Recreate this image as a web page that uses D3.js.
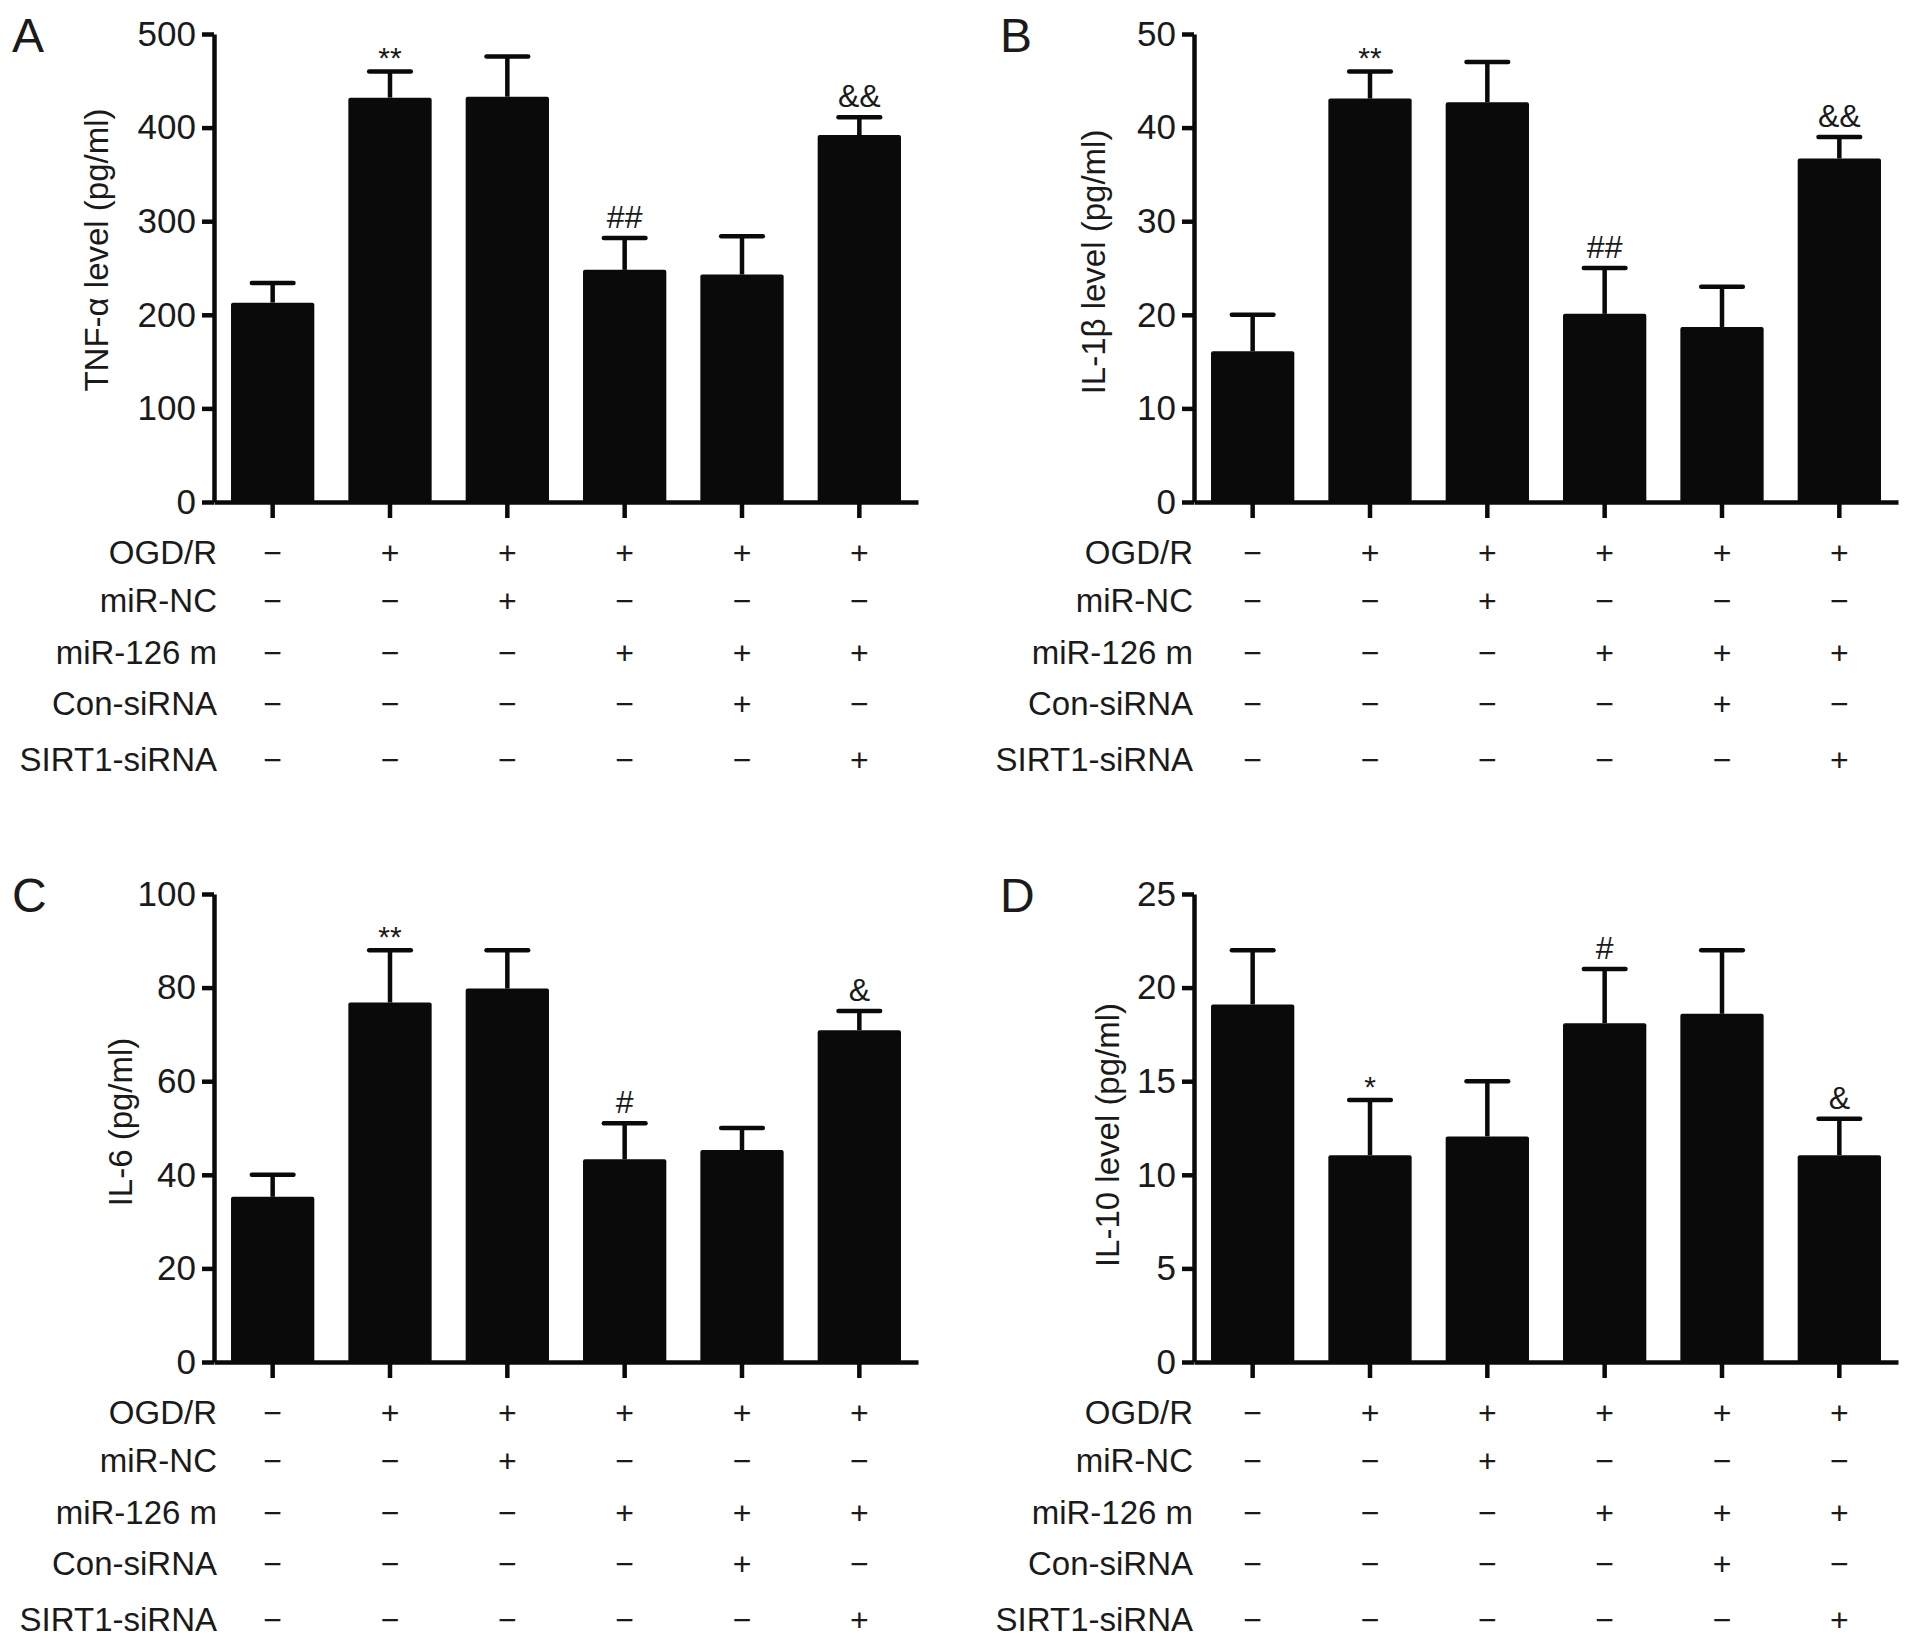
<!DOCTYPE html>
<html>
<head>
<meta charset="utf-8">
<script src="https://cdn.jsdelivr.net/npm/d3@7"></script>
<style>
body { margin: 0; background: #fff; }
text { font-family: "Liberation Sans", Arial, Helvetica, sans-serif; fill: #1a1a1a; }
</style>
</head>
<body>
<svg id="fig" width="1913" height="1646"></svg>
<script>
// six groups, treatment rows under the x axis (1 = "+", 0 = "-")
var groups = ["g1", "g2", "g3", "g4", "g5", "g6"]
var rowLabels = ["OGD/R", "miR-NC", "miR-126 m", "Con-siRNA", "SIRT1-siRNA"]
var treatments = [
    [0, 1, 1, 1, 1, 1],
    [0, 0, 1, 0, 0, 0],
    [0, 0, 0, 1, 1, 1],
    [0, 0, 0, 0, 1, 0],
    [0, 0, 0, 0, 0, 1]
]

// A - TNF-alpha
var tnfMean = [213, 432, 433, 248, 243, 392]
var tnfUpper = [234, 460, 476, 282, 284, 411]
var tnfMarks = ["", "**", "", "##", "", "&&"]
var tnfTicks = [0, 100, 200, 300, 400, 500]

// B - IL-1beta
var il1Mean = [16.1, 43.1, 42.7, 20.1, 18.7, 36.7]
var il1Upper = [20, 46, 47, 25, 23, 39]
var il1Marks = ["", "**", "", "##", "", "&&"]
var il1Ticks = [0, 10, 20, 30, 40, 50]

// C - IL-6
var il6Mean = [35.3, 76.8, 79.8, 43.3, 45.3, 70.9]
var il6Upper = [40, 88, 88, 51, 50, 75]
var il6Marks = ["", "**", "", "#", "", "&"]
var il6Ticks = [0, 20, 40, 60, 80, 100]

// D - IL-10
var il10Mean = [19.1, 11.05, 12.05, 18.1, 18.6, 11.05]
var il10Upper = [22, 14, 15, 21, 22, 13]
var il10Marks = ["", "*", "", "#", "", "&"]
var il10Ticks = [0, 5, 10, 15, 20, 25]

var panels = [
    { letter: "A", title: "TNF-\u03b1 level (pg/ml)", mean: tnfMean, upper: tnfUpper, marks: tnfMarks, ticks: tnfTicks },
    { letter: "B", title: "IL-1\u03b2 level (pg/ml)", mean: il1Mean, upper: il1Upper, marks: il1Marks, ticks: il1Ticks },
    { letter: "C", title: "IL-6 (pg/ml)", mean: il6Mean, upper: il6Upper, marks: il6Marks, ticks: il6Ticks },
    { letter: "D", title: "IL-10 level (pg/ml)", mean: il10Mean, upper: il10Upper, marks: il10Marks, ticks: il10Ticks }
]

// layout (window.top is reserved, so no "top" here)
var offsets = [[0, 0], [980, 0], [0, 860], [980, 860]]
var titlePos = [[108, 250], [125, 262], [132, 262], [139, 275]]
var letterX = [12, 20, 12, 20]
var labelShift = [0, -4, 0, -4]
var plotL = 214, plotR = 918, plotT = 34, plotB = 502
var rowOffsets = [50, 98, 150, 201, 257]
var lw = 4.5

var svg = d3.select("#fig")

panels.forEach(function (p, i) {
    var g = svg.append("g").attr("transform", "translate(" + offsets[i][0] + "," + offsets[i][1] + ")")

    var x = d3.scaleBand().domain(groups).range([plotL, plotR]).paddingInner(0.29).paddingOuter(0.145)
    var y = d3.scaleLinear().domain([0, d3.max(p.ticks)]).range([plotB, plotT])
    var bw = x.bandwidth()

    // bars
    g.selectAll(".bar").data(groups).join("rect")
        .attr("x", d => x(d))
        .attr("y", (d, j) => y(p.mean[j]))
        .attr("width", bw)
        .attr("height", (d, j) => y(0) - y(p.mean[j]))
        .attr("rx", 2)
        .attr("fill", "#0a0a0a")

    // error bars (upper only)
    g.selectAll(".stem").data(groups).join("line")
        .attr("x1", d => x(d) + bw / 2).attr("x2", d => x(d) + bw / 2)
        .attr("y1", (d, j) => y(p.mean[j])).attr("y2", (d, j) => y(p.upper[j]))
        .attr("stroke", "#0a0a0a").attr("stroke-width", lw)
    g.selectAll(".cap").data(groups).join("line")
        .attr("x1", d => x(d) + bw / 4).attr("x2", d => x(d) + bw * 3 / 4)
        .attr("y1", (d, j) => y(p.upper[j])).attr("y2", (d, j) => y(p.upper[j]))
        .attr("stroke", "#0a0a0a").attr("stroke-width", lw).attr("stroke-linecap", "round")

    // significance marks
    g.selectAll(".mark").data(groups).join("text")
        .attr("x", d => x(d) + bw / 2)
        .attr("y", (d, j) => y(p.upper[j]) - (p.marks[j].indexOf("*") >= 0 ? 3 : 10))
        .attr("text-anchor", "middle")
        .attr("font-size", (d, j) => p.marks[j].indexOf("*") >= 0 ? 30 : 32)
        .text((d, j) => p.marks[j])

    // y axis
    var ya = g.append("g").attr("transform", "translate(" + plotL + ",0)")
        .call(d3.axisLeft(y).tickValues(p.ticks).tickSize(12).tickSizeOuter(0).tickPadding(6))
    ya.select(".domain").attr("stroke-width", lw).attr("stroke", "#0a0a0a")
    ya.selectAll(".tick line").attr("stroke-width", lw).attr("stroke", "#0a0a0a")
    ya.selectAll(".tick text").attr("font-size", 35).attr("font-family", null).attr("fill", "#1a1a1a")

    // x axis
    var xa = g.append("g").attr("transform", "translate(0," + plotB + ")")
        .call(d3.axisBottom(x).tickSize(16).tickSizeOuter(0).tickFormat(""))
    xa.select(".domain").attr("stroke-width", lw).attr("stroke", "#0a0a0a")
    xa.selectAll(".tick line").attr("stroke-width", lw).attr("stroke", "#0a0a0a")

    // y axis title
    g.append("text")
        .attr("transform", "translate(" + titlePos[i][0] + "," + titlePos[i][1] + ") rotate(-90)")
        .attr("text-anchor", "middle")
        .attr("font-size", 33)
        .text(p.title)

    // panel letter
    g.append("text").attr("x", letterX[i]).attr("y", 52).attr("font-size", 48).text(p.letter)

    // treatment table
    rowLabels.forEach(function (lab, r) {
        var ty = plotB + rowOffsets[r] + 12
        g.append("text").attr("x", plotL + 3 + labelShift[i]).attr("y", ty)
            .attr("text-anchor", "end").attr("font-size", 33).text(lab)
        g.selectAll(".sign" + r).data(groups).join("text")
            .attr("class", "sign" + r)
            .attr("x", d => x(d) + bw / 2)
            .attr("y", ty)
            .attr("text-anchor", "middle")
            .attr("font-size", 32)
            .text((d, j) => treatments[r][j] ? "+" : "\u2212")
    })
})
</script>
</body>
</html>
